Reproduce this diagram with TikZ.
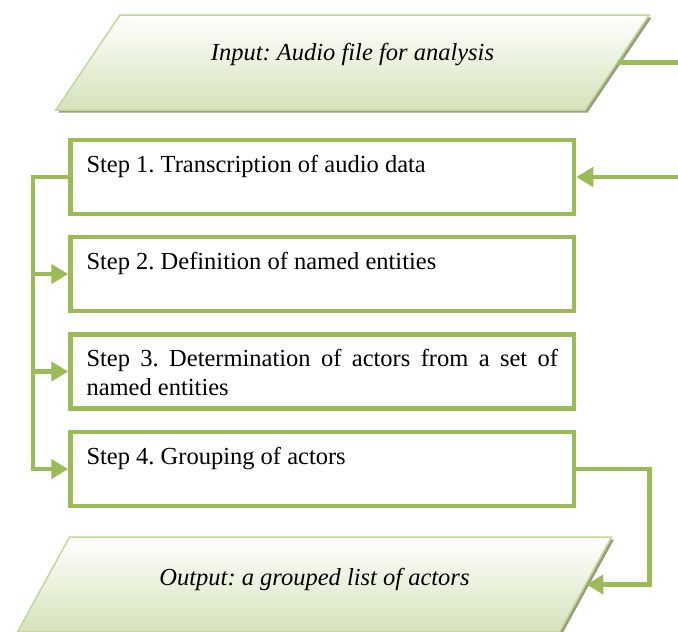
\documentclass[tikz,border=0pt]{standalone}
\usepackage{fontspec}
\setmainfont{Liberation Serif}
\usetikzlibrary{shapes.geometric,arrows.meta,shadows}
\definecolor{olive}{HTML}{9BBB59}
\definecolor{iobord}{HTML}{C3D69B}
\definecolor{iofill}{HTML}{D5E3BA}
\definecolor{shadowc}{RGB}{150,160,128}
\begin{document}
\frenchspacing
\begin{tikzpicture}[x=1pt,y=-1pt,
  txt/.style={font=\fontsize{24.5}{29}\selectfont\frenchspacing},
  stepbox/.style={txt, draw=olive, line width=4.5pt, rectangle, fill=white,
    minimum width=503.5pt, minimum height=74pt, inner xsep=16pt, inner ysep=12pt},
  iobox/.style={txt, trapezium, trapezium left angle=45, trapezium right angle=135,
    trapezium stretches=true, minimum width=595pt, minimum height=95pt,
    draw=iobord, line width=1.5pt, top color=white, bottom color=iofill,
    drop shadow={shadow xshift=2.5pt, shadow yshift=-2.5pt, fill=shadowc, opacity=1},
    inner sep=0pt},
  flow/.style={draw=olive, line width=4.5pt, -{Triangle[length=17pt,width=19pt]}},
  bus/.style={draw=olive, line width=4.5pt}
]
\useasboundingbox (0,0) rectangle (678,632);
\tolerance=9999
\hyphenpenalty=10000

\node[iobox, text height=17pt, text depth=22pt] (in) at (352.5,62.5) {\itshape Input: Audio file for analysis};
\node[iobox, text height=17pt, text depth=16pt] (out) at (314.5,584.5) {\itshape Output: a grouped list of actors};

\node[stepbox] (s1) at (322.25,177) {\parbox[c][50pt][t]{471.5pt}{\strut Step 1. Transcription of audio data}};
\node[stepbox] (s2) at (322.25,274) {\parbox[c][50pt][t]{471.5pt}{\strut Step 2. Definition of named entities}};
\node[stepbox] (s3) at (322.25,371.5) {\parbox[c][50pt][t]{471.5pt}{\strut Step 3. Determination of actors from a set of named entities}};
\node[stepbox] (s4) at (322.25,469) {\parbox[c][50pt][t]{471.5pt}{\strut Step 4. Grouping of actors}};

% input to step 1 (runs out of the picture on the right)
\draw[flow] (in.east) -- ++(100,0) |- (s1.east);

% left bus
\coordinate (bt) at ([xshift=-35.5pt]s1.west);
\draw[flow] (s1.west) -- (bt) |- (s4.west);
\draw[flow] (bt |- s2.west) -- (s2.west);
\draw[flow] (bt |- s3.west) -- (s3.west);

% step 4 to output
\draw[flow] (s4.east) -- ++(73,0) |- (out.east);
\end{tikzpicture}
\end{document}
